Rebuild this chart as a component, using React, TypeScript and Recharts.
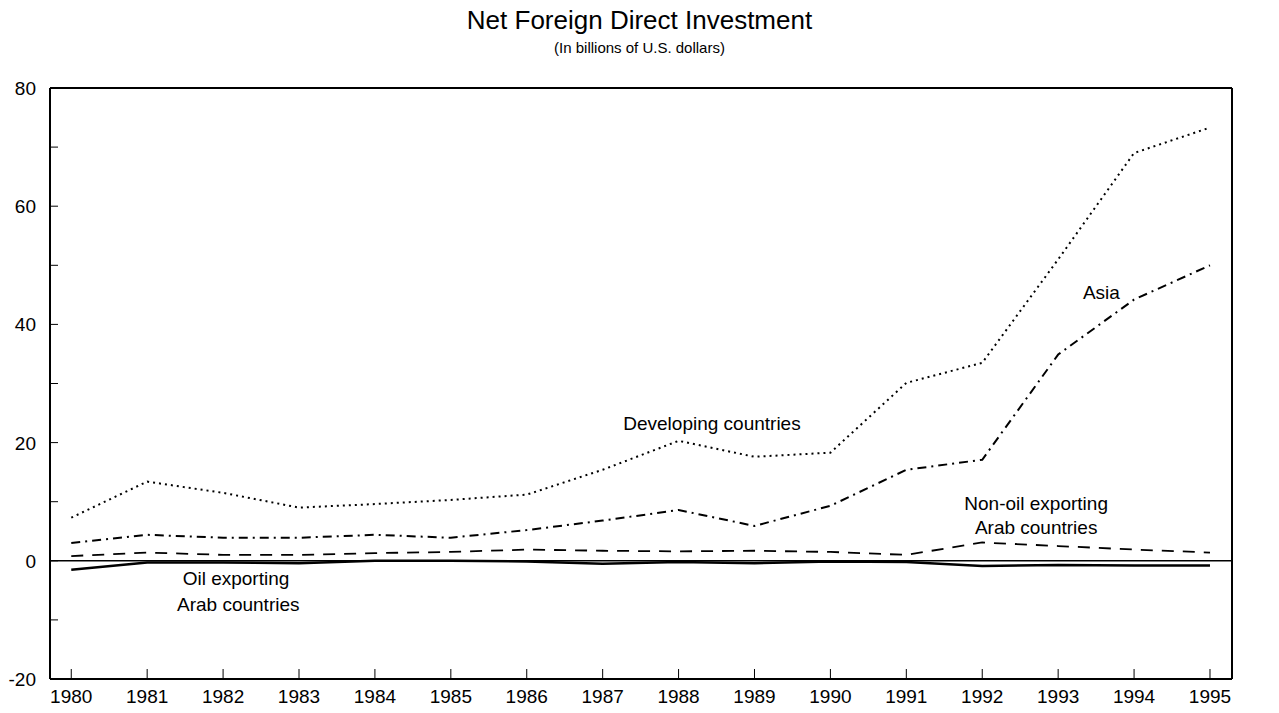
import React from "react";
import {
  LineChart,
  Line,
  XAxis,
  YAxis,
  ReferenceLine,
  ReferenceDot,
} from "recharts";

const years = [1980, 1981, 1982, 1983, 1984, 1985, 1986, 1987, 1988, 1989, 1990, 1991, 1992, 1993, 1994, 1995];
const developing = [7.3, 13.4, 11.5, 9.0, 9.6, 10.3, 11.2, 15.4, 20.3, 17.6, 18.3, 30.1, 33.5, 51.0, 69.0, 73.3];
const asia = [3.0, 4.4, 3.9, 3.9, 4.4, 3.9, 5.2, 6.8, 8.6, 5.9, 9.3, 15.4, 17.1, 34.9, 44.2, 50.0];
const nonOilArab = [0.8, 1.4, 1.0, 1.0, 1.3, 1.5, 1.9, 1.7, 1.6, 1.7, 1.5, 1.0, 3.1, 2.5, 1.9, 1.4];
const oilArab = [-1.5, -0.3, -0.3, -0.4, 0, 0, -0.1, -0.5, -0.2, -0.4, -0.1, -0.2, -0.9, -0.7, -0.8, -0.8];

const yTicks = [-20, -10, 0, 10, 20, 30, 40, 50, 60, 70, 80];

const data = years.map((year, i) => ({
  year,
  developing: developing[i],
  asia: asia[i],
  nonOilArab: nonOilArab[i],
  oilArab: oilArab[i],
}));

const FONT = "'Liberation Sans', Arial, sans-serif";

const LeftTick = (props: any) => {
  const { x, y, payload } = props;
  const show = payload.value % 20 === 0;
  return (
    <g>
      <line x1={x + 15} x2={x + 23} y1={y} y2={y} stroke="#000" strokeWidth={1} />
      {show && (
        <text x={x + 1} y={y} dy={7} textAnchor="end" fontSize={19} fontFamily={FONT} fill="#000">
          {payload.value}
        </text>
      )}
    </g>
  );
};

const RightTick = (props: any) => {
  const { x, y, payload } = props;
  const show = payload.value % 20 === 0;
  return (
    <g>
      <line x1={x - 15} x2={x - 23} y1={y} y2={y} stroke="#000" strokeWidth={1} />
      {show && (
        <text x={x} y={y} dy={7} textAnchor="start" fontSize={19} fontFamily={FONT} fill="#000">
          {payload.value}
        </text>
      )}
    </g>
  );
};

const BottomTick = (props: any) => {
  const { x, y, payload } = props;
  return (
    <g>
      <line x1={x} x2={x} y1={y - 10} y2={y - 20} stroke="#000" strokeWidth={1} />
      <text x={x} y={y} dy={14} textAnchor="middle" fontSize={19} fontFamily={FONT} fill="#000">
        {payload.value}
      </text>
    </g>
  );
};

const note = (value: string) => ({
  value,
  position: "center" as const,
  fontSize: 19,
  fontFamily: FONT,
  fill: "#000",
});

export default function App() {
  return (
    <div style={{ position: "absolute", left: 0, top: 0, width: 1279, height: 713, background: "#fff", fontFamily: FONT }}>
      <div style={{ position: "absolute", top: 5, width: 1279, textAlign: "center", fontSize: 26, lineHeight: "30px", color: "#000" }}>
        Net Foreign Direct Investment
      </div>
      <div style={{ position: "absolute", top: 39, width: 1279, textAlign: "center", fontSize: 15, lineHeight: "18px", color: "#000" }}>
        (In billions of U.S. dollars)
      </div>
      <LineChart
        width={1279}
        height={713}
        data={data}
        margin={{ top: 88, right: 0, bottom: 0, left: 0 }}
      >
        <XAxis
          dataKey="year"
          type="number"
          domain={[1979.72, 1995.29]}
          ticks={years}
          interval={0}
          height={34}
          axisLine={{ stroke: "#000", strokeWidth: 2 }}
          tickLine={false}
          tickSize={0}
          tickMargin={10}
          tick={<BottomTick />}
        />
        <YAxis
          yAxisId="left"
          domain={[-20, 80]}
          ticks={yTicks}
          interval={0}
          width={50}
          axisLine={{ stroke: "#000", strokeWidth: 2 }}
          tickLine={false}
          tickSize={0}
          tickMargin={15}
          tick={<LeftTick />}
        />
        <YAxis
          yAxisId="right"
          orientation="right"
          domain={[-20, 80]}
          ticks={yTicks}
          interval={0}
          width={47}
          axisLine={{ stroke: "#000", strokeWidth: 2 }}
          tickLine={false}
          tickSize={0}
          tickMargin={15}
          tick={<RightTick />}
        />
        <ReferenceLine yAxisId="left" y={80} stroke="#000" strokeWidth={2} />
        <ReferenceLine yAxisId="left" y={0} stroke="#000" strokeWidth={1.5} />
        <Line
          yAxisId="left"
          dataKey="developing"
          stroke="#000"
          strokeWidth={2}
          strokeDasharray="2 4"
          dot={false}
          isAnimationActive={false}
        />
        <Line
          yAxisId="left"
          dataKey="asia"
          stroke="#000"
          strokeWidth={2}
          strokeDasharray="9 5 2 5"
          dot={false}
          isAnimationActive={false}
        />
        <Line
          yAxisId="left"
          dataKey="nonOilArab"
          stroke="#000"
          strokeWidth={1.8}
          strokeDasharray="12 9"
          dot={false}
          isAnimationActive={false}
        />
        <Line
          yAxisId="left"
          dataKey="oilArab"
          stroke="#000"
          strokeWidth={2.5}
          dot={false}
          isAnimationActive={false}
        />
        <ReferenceDot yAxisId="left" x={1988.44} y={23.2} r={0} stroke="none" label={note("Developing countries")} />
        <ReferenceDot yAxisId="left" x={1993.57} y={45.5} r={0} stroke="none" label={note("Asia")} />
        <ReferenceDot yAxisId="left" x={1992.71} y={9.8} r={0} stroke="none" label={note("Non-oil exporting")} />
        <ReferenceDot yAxisId="left" x={1992.71} y={5.6} r={0} stroke="none" label={note("Arab countries")} />
        <ReferenceDot yAxisId="left" x={1982.17} y={-2.9} r={0} stroke="none" label={note("Oil exporting")} />
        <ReferenceDot yAxisId="left" x={1982.2} y={-7.3} r={0} stroke="none" label={note("Arab countries")} />
      </LineChart>
    </div>
  );
}
